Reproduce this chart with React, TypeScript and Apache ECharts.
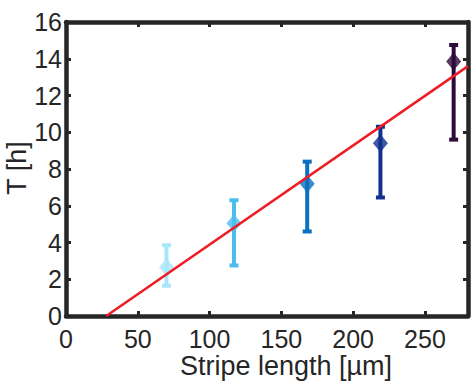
import React, { useEffect, useRef } from "react";
import * as echarts from "echarts";

const stripeLengths = [70, 117, 168, 219, 270];
const meanT = [2.65, 5.05, 7.2, 9.4, 13.85];
const lowT = [1.65, 2.75, 4.6, 6.45, 9.6];
const highT = [3.85, 6.3, 8.4, 10.3, 14.75];
const pointColors = ["#a8e6fa", "#4cbdee", "#0a70bf", "#12308e", "#2d0a3a"];
const fitLine = [
  [28, 0],
  [280, 13.6],
];

const AX = "#262626";
const FONT = "Liberation Sans, Arial, sans-serif";

export default function App() {
  const ref = useRef<HTMLDivElement>(null);
  useEffect(() => {
    if (!ref.current) return;
    const chart = echarts.init(ref.current, undefined, { renderer: "svg" });
    const errData = stripeLengths.map((x, i) => [x, lowT[i], highT[i], i]);
    const axisCommon = {
      axisLine: { show: true, onZero: false, lineStyle: { color: AX, width: 4.5 } },
      axisTick: { show: true, inside: true, length: 5, lineStyle: { color: AX, width: 3 } },
      splitLine: { show: false },
    };
    chart.setOption({
      animation: false,
      grid: { left: 66, right: 4, top: 22, bottom: 70, containLabel: false },
      xAxis: [
        {
          type: "value",
          min: 0,
          max: 280,
          interval: 50,
          position: "bottom",
          ...axisCommon,
          axisLabel: {
            show: true,
            color: AX,
            fontSize: 25,
            fontFamily: FONT,
            margin: 10,
            showMaxLabel: false,
          },
        },
        {
          type: "value",
          min: 0,
          max: 280,
          interval: 50,
          position: "top",
          ...axisCommon,
          axisLabel: { show: false },
        },
      ],
      yAxis: [
        {
          type: "value",
          min: 0,
          max: 16,
          interval: 2,
          position: "left",
          ...axisCommon,
          axisLabel: { show: true, color: AX, fontSize: 25, fontFamily: FONT, margin: 4 },
        },
        {
          type: "value",
          min: 0,
          max: 16,
          interval: 2,
          position: "right",
          ...axisCommon,
          axisLabel: { show: false },
        },
      ],
      graphic: [
        {
          type: "text",
          x: 286,
          y: 366,
          style: {
            text: "Stripe length [µm]",
            fill: AX,
            font: `27px ${FONT}`,
            textAlign: "center",
            textVerticalAlign: "middle",
          },
        },
        {
          type: "text",
          x: 17,
          y: 168,
          rotation: Math.PI / 2,
          style: {
            text: "T [h]",
            fill: AX,
            font: `27px ${FONT}`,
            textAlign: "center",
            textVerticalAlign: "middle",
          },
        },
      ],
      series: [
        {
          type: "custom",
          xAxisIndex: 0,
          yAxisIndex: 0,
          data: errData,
          encode: { x: 0, y: [1, 2] },
          renderItem: (params: any, api: any) => {
            const x = api.value(0);
            const lo = api.coord([x, api.value(1)]);
            const hi = api.coord([x, api.value(2)]);
            const c = pointColors[api.value(3)];
            const w = 4.5;
            const style = { stroke: c, lineWidth: 4 };
            return {
              type: "group",
              children: [
                { type: "line", shape: { x1: lo[0], y1: lo[1], x2: hi[0], y2: hi[1] }, style },
                { type: "line", shape: { x1: lo[0] - w, y1: lo[1], x2: lo[0] + w, y2: lo[1] }, style },
                { type: "line", shape: { x1: hi[0] - w, y1: hi[1], x2: hi[0] + w, y2: hi[1] }, style },
              ],
            };
          },
          z: 2,
        },
        {
          type: "scatter",
          xAxisIndex: 0,
          yAxisIndex: 0,
          symbol: "diamond",
          symbolSize: [15, 18],
          data: stripeLengths.map((x, i) => ({
            value: [x, meanT[i]],
            itemStyle: { color: pointColors[i] },
          })),
          z: 3,
        },
        {
          type: "line",
          xAxisIndex: 0,
          yAxisIndex: 0,
          data: fitLine,
          symbol: "none",
          lineStyle: { color: "#ee1c25", width: 2.5 },
          z: 4,
        },
      ],
    });
    return () => chart.dispose();
  }, []);
  return <div ref={ref} style={{ width: 472, height: 386, position: "absolute", left: 0, top: 0 }} />;
}
